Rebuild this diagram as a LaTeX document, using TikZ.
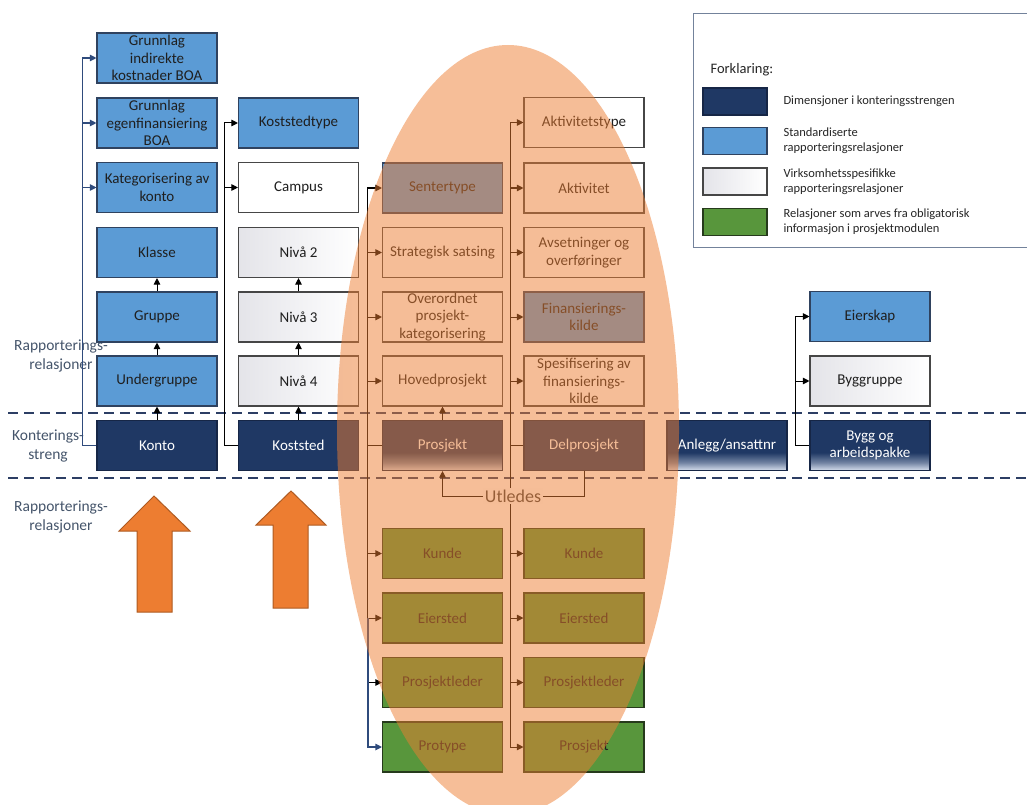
\documentclass[tikz,border=0pt]{standalone}
\usepackage{fontspec}
\setmainfont{Carlito}
\usetikzlibrary{arrows.meta,shapes.geometric}

\definecolor{navy}{RGB}{31,56,100}
\definecolor{navyline}{RGB}{22,38,70}
\definecolor{navylight}{RGB}{215,224,238}
\definecolor{stdblue}{RGB}{91,155,213}
\definecolor{stdline}{RGB}{47,66,95}
\definecolor{prjgreen}{RGB}{88,150,60}
\definecolor{greenline}{RGB}{38,58,28}
\definecolor{greyline}{RGB}{70,70,70}
\definecolor{linkblue}{RGB}{47,75,124}
\definecolor{dashblue}{RGB}{44,62,100}
\definecolor{labelgrey}{RGB}{68,84,106}
\definecolor{arroworange}{RGB}{237,125,49}
\definecolor{arrowedge}{RGB}{174,90,33}
\definecolor{legendline}{RGB}{115,130,155}
\definecolor{fadegrey}{RGB}{228,228,233}

% navy that fades to a pale tint in its lower third
% (a box spans 25bp..75bp of the shading square)
\pgfdeclareverticalshading{dimshade}{100bp}{color(0bp)=(navylight); color(25bp)=(navylight); color(33bp)=(navylight!45!navy); color(43bp)=(navy); color(100bp)=(navy)}

\newcommand\boxfont{\fontsize{15}{17.5}\selectfont}
\newcommand\sidefont{\fontsize{15.5}{19}\selectfont}
\newcommand\legfont{\fontsize{12.5}{15}\selectfont}

\tikzset{
  box/.style={rectangle, minimum width=120pt, minimum height=50pt, inner sep=1pt,
    align=center, font=\boxfont, line width=1.1pt, text=black!88},
  dimbox/.style={box, fill=navy, draw=navyline, text=white},
  dimfade/.style={box, draw=navyline, text=white, shade, shading=dimshade},
  stdbox/.style={box, fill=stdblue, draw=stdline},
  ownbox/.style={box, fill=white, draw=greyline},
  ownfade/.style={box, draw=greyline, left color=fadegrey, right color=white},
  prjbox/.style={box, fill=prjgreen, draw=greenline},
  link/.style={line width=1pt, black},
  bluelink/.style={line width=1.1pt, linkblue},
  tip/.style={-{Triangle[length=6.5pt,width=6.5pt]}},
  divider/.style={line width=2.6pt, dashblue, dash pattern=on 10pt off 6pt},
  sidelabel/.style={align=center, font=\sidefont, text=labelgrey},
  bigarrow/.style={fill=arroworange, draw=arrowedge, line width=1pt, line join=miter},
  legswatch/.style={rectangle, minimum width=64pt, minimum height=27pt, inner sep=0pt,
    line width=1.1pt},
  legtext/.style={anchor=west, align=left, font=\legfont, text=black!85},
}

\begin{document}
\begin{tikzpicture}[x=1pt, y=-1pt]
\useasboundingbox (0,0) rectangle (1027,805);
\clip (0,0) rectangle (1027,805);

% dividing lines between reporting relations and the posting string
\draw[divider] (8,413) -- (1027,413);
\draw[divider] (8,478) -- (1027,478);

% side labels
\node[sidelabel] (lblrapp1) at (61,356) {Rapporterings-\\relasjoner};
\node[sidelabel] (lblkont) at (48,446) {Konterings-\\streng};
\node[sidelabel] (lblrapp2) at (61,517) {Rapporterings-\\relasjoner};

% account column
\node[stdbox] (gi) at (157,58) {Grunnlag\\indirekte\\kostnader BOA};
\node[stdbox] (ge) at (157,123) {Grunnlag\\egenfinansiering\\BOA};
\node[stdbox] (kat) at (157,187.5) {Kategorisering av\\konto};
\node[stdbox] (klasse) at (157,252.5) {Klasse};
\node[stdbox] (gruppe) at (157,317) {Gruppe};
\node[stdbox] (ugruppe) at (157,381) {Undergruppe};
\node[dimbox] (konto) at (157,445.5) {Konto};

% cost centre column
\node[stdbox] (kst) at (298.5,123) {Koststedtype};
\node[ownbox] (campus) at (298.5,187.5) {Campus};
\node[ownfade] (niva2) at (298.5,252.5) {Nivå 2};
\node[ownfade] (niva3) at (298.5,317) {Nivå 3};
\node[ownfade] (niva4) at (298.5,381) {Nivå 4};
\node[dimbox] (koststed) at (298.5,445.5) {Koststed};

% project column
\node[stdbox] (senter) at (442.5,188) {Sentertype};
\node[ownbox] (strat) at (442.5,252.5) {Strategisk satsing};
\node[ownbox] (over) at (442.5,317) {Overordnet\\prosjekt-\\kategorisering};
\node[ownbox] (hoved) at (442.5,381) {Hovedprosjekt};
\node[dimfade] (prosjekt) at (442.5,445.5) {Prosjekt};
\node[prjbox] (kunde1) at (442.5,553.5) {Kunde};
\node[prjbox] (eier1) at (442.5,618) {Eiersted};
\node[prjbox] (pleder1) at (442.5,682.5) {Prosjektleder};
\node[prjbox] (protype) at (442.5,747) {Protype};

% sub-project column
\node[ownbox] (akttype) at (584,122.5) {Aktivitetstype};
\node[ownbox] (akt) at (584,188) {Aktivitet};
\node[ownbox] (avs) at (584,252.5) {Avsetninger og\\overføringer};
\node[stdbox] (fin) at (584,317) {Finansierings-\\kilde};
\node[ownbox] (spes) at (584,381) {Spesifisering av\\finansierings-\\kilde};
\node[dimbox] (delprosjekt) at (584,445.5) {Delprosjekt};
\node[prjbox] (kunde2) at (584,553.5) {Kunde};
\node[prjbox] (eier2) at (584,618) {Eiersted};
\node[prjbox] (pleder2) at (584,682.5) {Prosjektleder};
\node[prjbox] (prosjekt2) at (584,747) {Prosjekt};

% asset and building columns
\node[dimfade] (anlegg) at (727,445.5) {Anlegg/ansattnr};
\node[stdbox] (eierskap) at (870,316.5) {Eierskap};
\node[ownfade] (byggruppe) at (870,381) {Byggruppe};
\node[dimfade] (bygg) at (870,445.5) {Bygg og\\arbeidspakke};

% account links
\draw[bluelink,tip] (konto.west) -| ([xshift=-14pt]gi.west) -- (gi.west);
\draw[bluelink,tip] ([xshift=-14pt]ge.west) -- (ge.west);
\draw[bluelink,tip] ([xshift=-14pt]kat.west) -- (kat.west);
\draw[link,tip] (gruppe.north) -- (klasse.south);
\draw[link,tip] (ugruppe.north) -- (gruppe.south);
\draw[link,tip] (konto.north) -- (ugruppe.south);

% cost centre links
\draw[link,tip] (koststed.west) -| ([xshift=-13pt]kst.west) -- (kst.west);
\draw[link,tip] ([xshift=-13pt]campus.west) -- (campus.west);
\draw[link,tip] (niva3.north) -- (niva2.south);
\draw[link,tip] (niva4.north) -- (niva3.south);
\draw[link,tip] (koststed.north) -- (niva4.south);

% project links
\draw[link,tip] (prosjekt.west) -| ([xshift=-14pt]senter.west) -- (senter.west);
\draw[link,tip] ([xshift=-14pt]strat.west) -- (strat.west);
\draw[link,tip] ([xshift=-14pt]over.west) -- (over.west);
\draw[link,tip] ([xshift=-14pt]hoved.west) -- (hoved.west);
\draw[link,tip] (prosjekt.north) -- (hoved.south);
\draw[link,tip] (prosjekt.west) -| ([xshift=-14pt]pleder1.west) -- (pleder1.west);
\draw[link,tip] ([xshift=-14pt]kunde1.west) -- (kunde1.west);
\draw[link,tip] ([xshift=-14pt]eier1.west) -- (eier1.west);
\draw[bluelink,tip] ([xshift=-14pt]eier1.west) |- (protype.west);

% sub-project links
\draw[link,tip] (delprosjekt.west) -| ([xshift=-13pt]akttype.west) -- (akttype.west);
\draw[link,tip] ([xshift=-13pt]akt.west) -- (akt.west);
\draw[link,tip] ([xshift=-13pt]avs.west) -- (avs.west);
\draw[link,tip] ([xshift=-13pt]fin.west) -- (fin.west);
\draw[link,tip] ([xshift=-13pt]spes.west) -- (spes.west);
\draw[link,tip] (delprosjekt.west) -| ([xshift=-13pt]prosjekt2.west) -- (prosjekt2.west);
\draw[link,tip] ([xshift=-13pt]kunde2.west) -- (kunde2.west);
\draw[link,tip] ([xshift=-13pt]eier2.west) -- (eier2.west);
\draw[link,tip] ([xshift=-13pt]pleder2.west) -- (pleder2.west);

% derived project
\node[fill=white, inner sep=1.5pt, font=\fontsize{18}{20}\selectfont, text=black!75]
  (utledes) at (513,496) {Utledes};
\draw[link] (delprosjekt.south) |- (utledes.east);
\draw[link,tip] (utledes.west) -| (prosjekt.south);

% building links
\draw[link,tip] (bygg.west) -| ([xshift=-14pt]eierskap.west) -- (eierskap.west);
\draw[link,tip] ([xshift=-14pt]byggruppe.west) -- (byggruppe.west);

% upward block arrows
\draw[bigarrow] (154,496) -- (190,531) -- (172,531) -- (172,612) -- (137,612)
  -- (137,531) -- (119,531) -- cycle;
\draw[bigarrow] (291,491) -- (326,525) -- (308,525) -- (308,608) -- (273,608)
  -- (273,525) -- (256,525) -- cycle;

% legend
\node[draw=legendline, line width=1pt, fill=white, minimum width=334pt,
  minimum height=234pt, anchor=north west, inner sep=0pt] (legend) at (693,13) {};
\node[anchor=west, font=\fontsize{14.5}{16}\selectfont, text=black!85]
  (legtitle) at (707,70) {Forklaring:};
\node[legswatch, fill=navy, draw=navyline] (sw1) at (735,101.5) {};
\node[legswatch, fill=stdblue, draw=stdline] (sw2) at (735,141) {};
\node[legswatch, left color=fadegrey, right color=white, draw=greyline] (sw3) at (735,181.5) {};
\node[legswatch, fill=prjgreen, draw=greenline] (sw4) at (735,222) {};
\node[legtext] (lt1) at (780,101.5) {Dimensjoner i konteringsstrengen};
\node[legtext] (lt2) at (780,141) {Standardiserte\\rapporteringsrelasjoner};
\node[legtext] (lt3) at (780,181.5) {Virksomhetsspesifikke\\rapporteringsrelasjoner};
\node[legtext] (lt4) at (780,222) {Relasjoner som arves fra obligatorisk\\informasjon i prosjektmodulen};

% translucent highlight over the project dimensions
\fill[arroworange, fill opacity=0.5] (508,430) ellipse [x radius=171, y radius=385];
\end{tikzpicture}
\end{document}
